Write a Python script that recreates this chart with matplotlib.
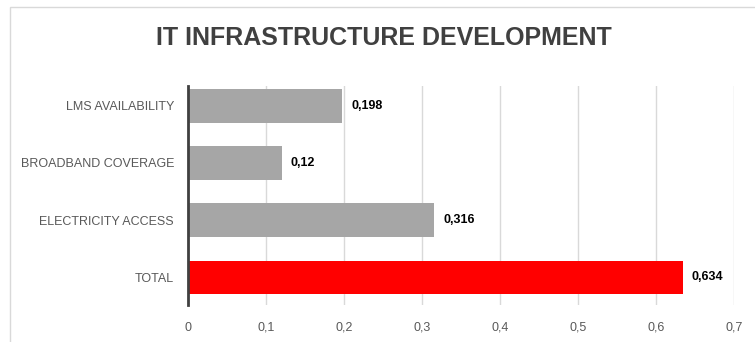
import matplotlib.pyplot as plt
from matplotlib.patches import Rectangle

categories = ['LMS AVAILABILITY', 'BROADBAND COVERAGE', 'ELECTRICITY ACCESS', 'TOTAL']
values = [0.198, 0.12, 0.316, 0.634]
colors = ['#a6a6a6', '#a6a6a6', '#a6a6a6', '#ff0000']
xticks = [0, 0.1, 0.2, 0.3, 0.4, 0.5, 0.6, 0.7]

plt.rcParams['font.family'] = ['Liberation Sans', 'DejaVu Sans']

fig = plt.figure(figsize=(7.55, 3.42), dpi=100)
ax = fig.add_axes([188 / 755, 37 / 342, 546 / 755, 219 / 342])

# light frame around the chart area
fig.patches.append(Rectangle((10 / 755, -0.1), 1.1, 1 - 7 / 342 + 0.1,
                             transform=fig.transFigure, fill=False,
                             edgecolor='#d9d9d9', linewidth=1))

pos = list(range(len(categories)))
ax.barh(pos, values, height=0.58, color=colors, zorder=3)

for p, v in zip(pos, values):
    ax.text(v + 0.011, p, f"{v:g}".replace('.', ','), va='center', ha='left',
            fontsize=9, fontweight='bold', color='black')

ax.set_yticks(pos)
ax.set_yticklabels(categories, fontsize=9, color='#595959')
ax.set_ylim(3.49, -0.35)
ax.set_xlim(0, 0.7)
ax.set_xticks(xticks)
ax.set_xticklabels([f"{t:g}".replace('.', ',') for t in xticks], fontsize=9, color='#595959')
ax.tick_params(length=0)
ax.tick_params(axis='x', pad=12)
ax.tick_params(axis='y', pad=10)

ax.grid(True, axis='x', color='#d9d9d9', linewidth=1, zorder=0)
ax.grid(False, axis='y')
for s in ['top', 'right', 'bottom']:
    ax.spines[s].set_visible(False)
ax.spines['left'].set_color('#404040')
ax.spines['left'].set_linewidth(2)
ax.spines['left'].set_zorder(4)

fig.text(384 / 755, 1 - 38 / 342, 'IT INFRASTRUCTURE DEVELOPMENT', ha='center', va='center',
         fontsize=18, fontweight='bold', color='#404040')

fig.savefig('out.png', dpi=100)
